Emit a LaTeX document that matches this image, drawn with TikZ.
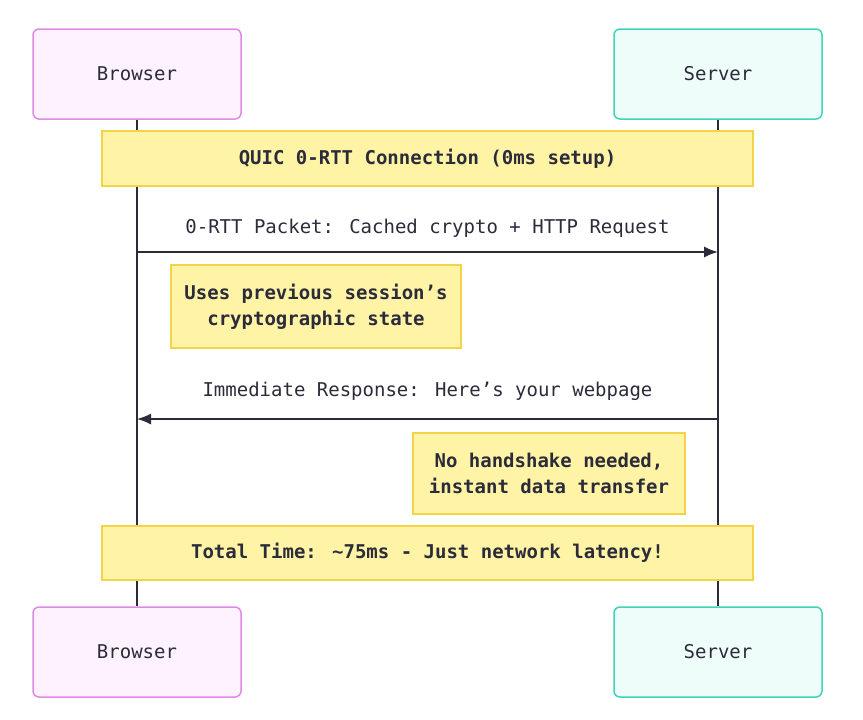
\documentclass[tikz,border=0pt]{standalone}
\usepackage{fontspec}
\setmainfont{DejaVu Sans Mono}
\usepackage{tikz}
\usetikzlibrary{arrows.meta}
\definecolor{actpink}{HTML}{FDF2FD}
\definecolor{actpinkb}{HTML}{E08AE8}
\definecolor{actmint}{HTML}{EEFDF9}
\definecolor{actmintb}{HTML}{3ED4B8}
\definecolor{notefill}{HTML}{FFF4A6}
\definecolor{notedraw}{HTML}{F2D34A}
\definecolor{ink}{HTML}{2B2B3A}
\newcommand{\apos}{{\char39}}

\begin{document}
\begin{tikzpicture}[x=1pt,y=-1pt,
  actor/.style={draw,line width=1.5pt,rounded corners=6pt,minimum width=208pt,minimum height=90pt,font=\fontsize{19}{22}\selectfont,text=ink},
  browser/.style={actor,fill=actpink,draw=actpinkb},
  server/.style={actor,fill=actmint,draw=actmintb},
  note/.style={draw=notedraw,fill=notefill,line width=1.5pt,font=\bfseries\fontsize{19}{26}\selectfont,text=ink,align=center},
  msg/.style={ink,line width=1.5pt,-{Latex[length=14pt,width=11pt]}},
  lbl/.style={font=\fontsize{19}{22}\selectfont,text=ink}]
\useasboundingbox (0,0) rectangle (863,720);
% actors
\node [browser] (bt) at (137,74) {Browser};
\node [server] (st) at (718,74) {Server};
\node [browser] (bb) at (137,652) {Browser};
\node [server] (sb) at (718,652) {Server};
% lifelines
\draw [ink,line width=1.5pt] (bt) -- (bb);
\draw [ink,line width=1.5pt] (st) -- (sb);
% notes
\node [note,minimum width=651pt,minimum height=55pt] (n1) at (427.5,158.5) {QUIC 0-RTT Connection (0ms setup)};
\node [note,minimum width=290pt,minimum height=83pt] (n2) at (316,306.5) {Uses previous session\apos s\\cryptographic state};
\node [note,minimum width=272pt,minimum height=81pt] (n3) at (549,473.5) {No handshake needed,\\instant data transfer};
\node [note,minimum width=651pt,minimum height=54pt] (n4) at (427.5,553) {Total Time: \textasciitilde75ms - Just network latency!};
% messages
\coordinate (b1) at (137,252); \coordinate (s1) at (718,252);
\coordinate (b2) at (137,419); \coordinate (s2) at (718,419);
\draw [msg] (b1) -- (s1) node [lbl,midway,above=10pt] (m1) {0-RTT Packet: Cached crypto + HTTP Request};
\draw [msg] (s2) -- (b2) node [lbl,midway,above=14pt] (m2) {Immediate Response: Here\apos s your webpage};
\end{tikzpicture}
\end{document}
